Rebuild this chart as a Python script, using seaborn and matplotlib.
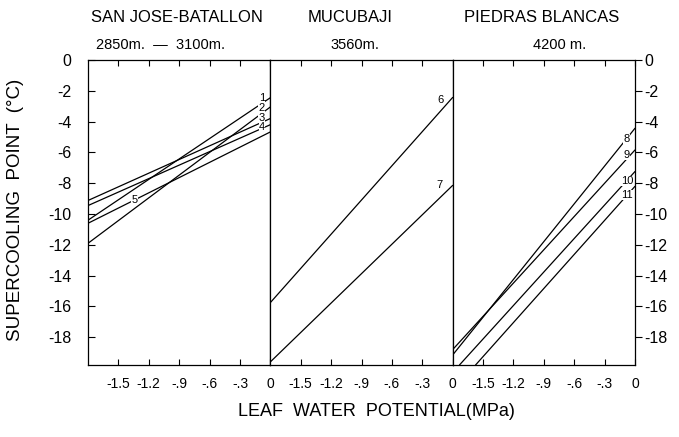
import matplotlib.pyplot as plt
import seaborn as sns
import pandas as pd

# panels (sites) and their elevations
sites = ["SAN JOSE-BATALLON", "MUCUBAJI", "PIEDRAS BLANCAS"]
elevations = ["2850m.  —  3100m.", "3560m.", "4200 m."]

# regression lines (leaf water potential MPa, supercooling point C)
line_ids = ["1", "2", "3", "4", "5", "6", "7", "8", "9", "10", "11"]
line_site = [0, 0, 0, 0, 0, 1, 1, 2, 2, 2, 2]
start_x = [-1.8, -1.8, -1.8, -1.8, -1.8, -1.8, -1.8, -1.8, -1.8, -1.733, -1.574]
start_y = [-10.4, -11.9, -9.12, -9.45, -10.6, -15.75, -19.6, -19.15, -18.8, -19.8, -19.8]
end_x = [0, 0, 0, 0, 0, 0, 0, 0, 0, 0, 0]
end_y = [-2.45, -3.05, -3.8, -4.2, -4.67, -2.43, -8.14, -4.43, -5.84, -7.24, -8.2]

# where each number label sits
label_x = [-0.085, -0.085, -0.085, -0.085, -1.34, -0.12, -0.13, -0.083, -0.083, -0.075, -0.083]
label_y = [-2.45, -3.1, -3.75, -4.35, -9.1, -2.6, -8.12, -5.15, -6.17, -7.83, -8.77]

x_ticks = [-1.5, -1.2, -0.9, -0.6, -0.3, 0]
x_tick_labels = ["-1.5", "-1.2", "-.9", "-.6", "-.3", "0"]
y_ticks = [0, -2, -4, -6, -8, -10, -12, -14, -16, -18]
y_tick_labels = ["0", "-2", "-4", "-6", "-8", "-10", "-12", "-14", "-16", "-18"]

sns.set_style("ticks")
plt.rcParams["font.family"] = ["Liberation Sans", "DejaVu Sans"]
plt.rcParams["text.color"] = "black"
plt.rcParams["xtick.color"] = "black"
plt.rcParams["ytick.color"] = "black"

lines = pd.DataFrame({
    "line": line_ids * 2,
    "site": line_site * 2,
    "x": start_x + end_x,
    "y": start_y + end_y,
})

W, H = 679, 437
fig, axes = plt.subplots(1, 3, figsize=(W / 100, H / 100), dpi=100, sharey=True)
fig.subplots_adjust(left=88 / W, right=635 / W, bottom=1 - 365 / H, top=1 - 60 / H, wspace=0)

for i, ax in enumerate(axes):
    sub = lines[lines["site"] == i]
    sns.lineplot(data=sub, x="x", y="y", units="line", estimator=None,
                 color="black", lw=0.9, sort=False, ax=ax)
    ax.set_xlim(-1.8, 0)
    ax.set_ylim(-19.8, 0)
    ax.set_xticks(x_ticks)
    ax.set_xticklabels(x_tick_labels)
    ax.set_xlabel("")
    ax.set_ylabel("")
    ax.tick_params(axis="x", direction="in", top=True, length=4, width=0.8,
                   pad=9, labelsize=10, colors="black")
    for s in ax.spines.values():
        s.set_linewidth(0.9)
        s.set_color("black")

for lid, site, lx, ly in zip(line_ids, line_site, label_x, label_y):
    axes[site].text(lx, ly, lid, fontsize=8, ha="center", va="center",
                    bbox=dict(fc="white", ec="none", pad=0.1))

axes[0].set_yticks(y_ticks)
axes[0].set_yticklabels(y_tick_labels)
axes[0].tick_params(axis="y", direction="in", length=5, width=0.8, pad=12,
                    labelsize=11.5, colors="black")
axes[1].tick_params(axis="y", left=False, labelleft=False)
axes[2].tick_params(axis="y", left=False, labelleft=False, right=True, labelright=True,
                    direction="out", length=5, width=0.8, pad=2, labelsize=11.5,
                    colors="black")

centers = [177, 350, 542]
sub_centers = [161, 355, 560]
for name, elev, cx, sx in zip(sites, elevations, centers, sub_centers):
    fig.text(cx / W, 1 - 18 / H, name, ha="center", va="center", fontsize=12)
    fig.text(sx / W, 1 - 45 / H, elev, ha="center", va="center", fontsize=10.5)

fig.text(16 / W, 1 - 210 / H, "SUPERCOOLING  POINT  (°C)", rotation=90,
         ha="center", va="center", fontsize=13.5)
fig.text(376 / W, 1 - 411 / H, "LEAF  WATER  POTENTIAL(MPa)", ha="center",
         va="center", fontsize=13)

fig.savefig("out.png", dpi=100)
